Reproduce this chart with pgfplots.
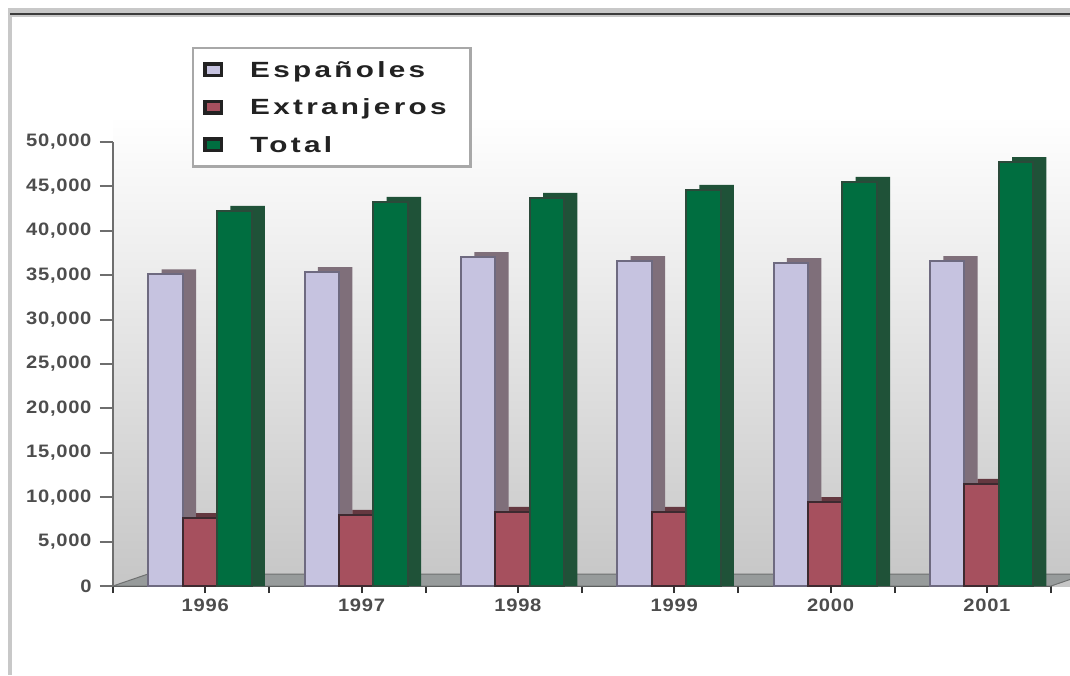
\documentclass[border=0pt]{standalone}
\usepackage{fontspec}
\setmainfont{Liberation Sans}
\newfontfamily\legfont{Liberation Sans}[FakeStretch=1.35, LetterSpace=15]
\newfontfamily\tickfont{Liberation Sans}[FakeStretch=1.12, LetterSpace=4]
\usepackage{pgfplots}
\usepackage{pgfplotstable}
\pgfplotsset{compat=1.18}

\definecolor{espF}{HTML}{C6C3E0}
\definecolor{espS}{HTML}{7F6F7A}
\definecolor{espL}{HTML}{6E6A80}
\definecolor{extF}{HTML}{A6505E}
\definecolor{extS}{HTML}{643840}
\definecolor{extL}{HTML}{3D2A30}
\definecolor{totF}{HTML}{006E40}
\definecolor{totS}{HTML}{1F5238}
\definecolor{totL}{HTML}{2B4A3A}
\definecolor{wallB}{HTML}{C6C6C6}
\definecolor{floorC}{HTML}{979B9B}
\definecolor{floorE}{HTML}{6E7070}
\definecolor{axX}{HTML}{333333}
\definecolor{axY}{HTML}{6E6E6E}
\definecolor{tickC}{HTML}{4D4D4D}
\definecolor{frameL}{HTML}{C8C8C8}
\definecolor{frameD}{HTML}{3C3C3C}
\definecolor{legB}{HTML}{A8A8A8}
\definecolor{legM}{HTML}{222222}

% i = category index, values per year
\pgfplotstableread{
i  anio esp   ext   tot
0  1996 35100 7650  42250
1  1997 35350 8000  43250
2  1998 37050 8350  43700
3  1999 36600 8350  44600
4  2000 36350 9450  45500
5  2001 36600 11500 47750
}\datos

\begin{document}
\begin{tikzpicture}[x=1pt,y=1pt]
\useasboundingbox (0,0) rectangle (1070,675);
\clip (0,0) rectangle (1070,675);
\fill[white] (0,0) rectangle (1070,675);
% frame of the sheet
\fill[frameL] (8,0) rectangle (12,666.5);
\fill[frameL] (8,658) rectangle (1070,666.5);
\fill[frameD] (10,660) rectangle (1070,662.3);
% back wall
\shade[top color=white, bottom color=wallB] (113,89) rectangle (1070,560);

\begin{axis}[
  at={(113pt,89pt)}, anchor=south west,
  scale only axis, width=938pt, height=444pt,
  xmin=0, xmax=6, ymin=0, ymax=50000,
  clip=false,
  axis x line*=bottom, axis y line*=left,
  x axis line style={draw=axX, line width=2.5pt, -},
  y axis line style={draw=axY, line width=2pt, -},
  tick align=outside,
  major tick length=13pt,
  every major x tick/.append style={/pgfplots/major tick length=7pt},
  xtick={0,1,2,3,4,5,6}, xticklabels={},
  xtick style={draw=axX, line width=2pt},
  ytick={0,5000,...,50000},
  ytick style={draw=axY, line width=2pt},
  scaled y ticks=false,
  /pgf/number format/assume math mode=true,
  yticklabel style={/pgf/number format/fixed, /pgf/number format/1000 sep={,},
    font=\tickfont\bfseries\fontsize{18}{18}\selectfont, text=tickC, xshift=-5pt},
  extra x ticks={0.59,1.59,2.59,3.59,4.59,5.59},
  extra x tick labels={1996,1997,1998,1999,2000,2001},
  extra x tick style={tick style={draw=none},
    ticklabel style={font=\tickfont\bfseries\fontsize{18}{18}\selectfont, text=tickC, yshift=4pt}},
  legend style={at={(0.0842,1.214)}, anchor=north west, draw=legB, line width=2.5pt,
    fill=white, inner xsep=10pt, inner ysep=11pt, row sep=16pt,
    font=\legfont\bfseries\fontsize{22}{22}\selectfont, text=legM,
    cells={anchor=west},
    /tikz/every odd column/.append style={column sep=25pt}},
]
% floor
\addplot[forget plot, fill=floorC, draw=floorE, line width=1pt]
  coordinates {(0,0) (6,0) (6.224,1350) (0.224,1350)} -- cycle;

% Españoles
\addplot[ybar, forget plot, bar width=0.22, bar shift=-0.135, fill=espS, draw=none]
  table[x expr=\thisrow{i}+0.556, y expr=\thisrow{esp}+560] {\datos};
\addplot[ybar, bar width=0.22, bar shift=-0.22, fill=espF, draw=espL, line width=2pt,
  legend image code/.code={\draw[fill=espF, draw=legM, line width=3.5pt] (0pt,-5.75pt) rectangle (16.5pt,5.75pt);}]
  table[x expr=\thisrow{i}+0.556, y=esp] {\datos};
\addlegendentry{Españoles}

% Extranjeros
\addplot[ybar, forget plot, bar width=0.22, bar shift=0.085, fill=extS, draw=none]
  table[x expr=\thisrow{i}+0.556, y expr=\thisrow{ext}+560] {\datos};
\addplot[ybar, bar width=0.22, bar shift=0, fill=extF, draw=extL, line width=2pt,
  legend image code/.code={\draw[fill=extF, draw=legM, line width=3.5pt] (0pt,-5.75pt) rectangle (16.5pt,5.75pt);}]
  table[x expr=\thisrow{i}+0.556, y=ext] {\datos};
\addlegendentry{Extranjeros\hspace*{12pt}}

% Total
\addplot[ybar, forget plot, bar width=0.22, bar shift=0.305, fill=totS, draw=none]
  table[x expr=\thisrow{i}+0.556, y expr=\thisrow{tot}+560] {\datos};
\addplot[ybar, bar width=0.22, bar shift=0.22, fill=totF, draw=totL, line width=2pt,
  legend image code/.code={\draw[fill=totF, draw=legM, line width=3.5pt] (0pt,-5.75pt) rectangle (16.5pt,5.75pt);}]
  table[x expr=\thisrow{i}+0.556, y=tot] {\datos};
\addlegendentry{Total}
\end{axis}
\end{tikzpicture}
\end{document}
